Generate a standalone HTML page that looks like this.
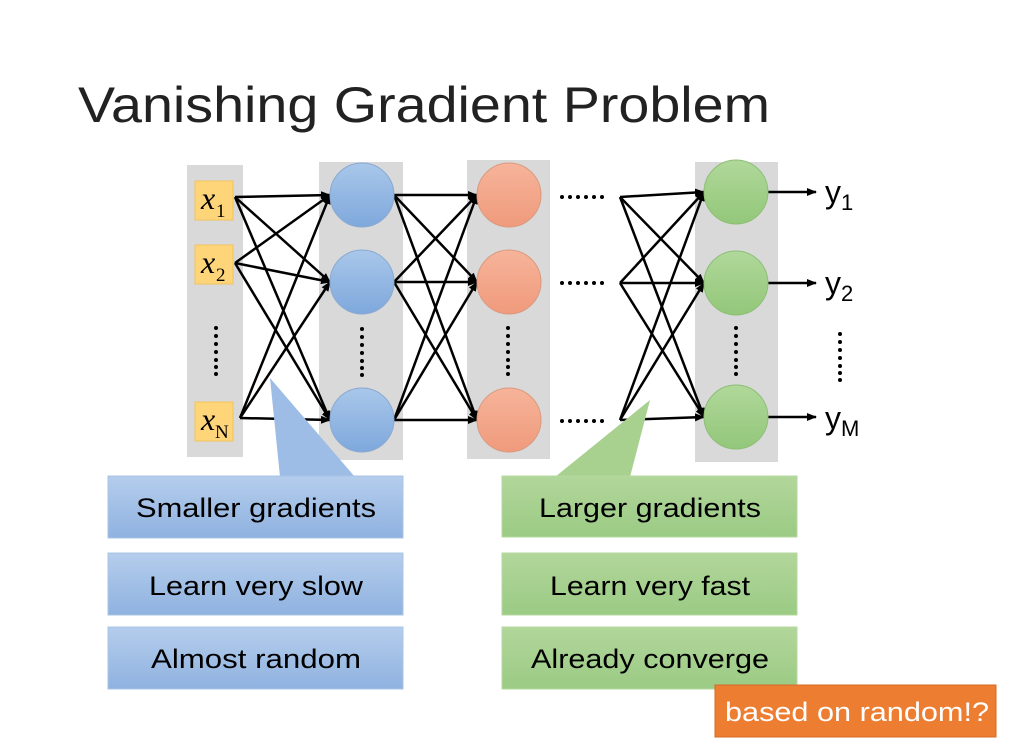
<!DOCTYPE html>
<html><head><meta charset="utf-8"><style>html,body{margin:0;padding:0;background:#fff}svg{display:block}</style></head>
<body>
<svg width="1014" height="755" viewBox="0 0 1014 755" xmlns="http://www.w3.org/2000/svg" font-family="Liberation Sans, sans-serif">
<defs>
<marker id="a" markerWidth="10" markerHeight="8" refX="9" refY="4" orient="auto" markerUnits="userSpaceOnUse"><path d="M0,0 L10,4 L0,8 Z" fill="#000"/></marker>
<linearGradient id="gb" x1="0" y1="0" x2="0" y2="1"><stop offset="0" stop-color="#b5cdec"/><stop offset="1" stop-color="#8fb2e0"/></linearGradient>
<linearGradient id="gg" x1="0" y1="0" x2="0" y2="1"><stop offset="0" stop-color="#b2d69b"/><stop offset="1" stop-color="#9bcb84"/></linearGradient>
<linearGradient id="cb" x1="0" y1="0" x2="0" y2="1"><stop offset="0" stop-color="#a9c7ea"/><stop offset="1" stop-color="#7ea8dc"/></linearGradient>
<linearGradient id="co" x1="0" y1="0" x2="0" y2="1"><stop offset="0" stop-color="#f6b49a"/><stop offset="1" stop-color="#f09a7c"/></linearGradient>
<linearGradient id="cg" x1="0" y1="0" x2="0" y2="1"><stop offset="0" stop-color="#b0d89a"/><stop offset="1" stop-color="#93c77a"/></linearGradient>
</defs>
<text x="78" y="122" font-size="50" fill="#222" textLength="692" lengthAdjust="spacingAndGlyphs">Vanishing Gradient Problem</text>
<rect x="187" y="165" width="56" height="292" fill="#d9d9d9"/>
<rect x="319" y="162" width="84" height="298" fill="#d9d9d9"/>
<rect x="467" y="160" width="83" height="299" fill="#d9d9d9"/>
<rect x="695" y="162" width="83" height="300" fill="#d9d9d9"/>
<g fill="#ffd57a" stroke="#f2c35c">
<rect x="195" y="181" width="38" height="39"/><rect x="195" y="245" width="38" height="39"/><rect x="195" y="402" width="38" height="39"/></g>
<g font-family="Liberation Serif, serif" font-style="italic" font-size="32" fill="#000">
<text x="201" y="209">x</text><text x="201" y="273">x</text><text x="201" y="430">x</text></g>
<g font-family="Liberation Serif, serif" font-size="19" fill="#000">
<text x="216" y="217">1</text><text x="216" y="281">2</text><text x="215" y="438">N</text></g>
<g stroke="#000" stroke-width="2.5" fill="none" marker-end="url(#a)">
<line x1="235" y1="197" x2="330" y2="195"/><line x1="235" y1="197" x2="330" y2="282"/><line x1="235" y1="197" x2="330" y2="420"/>
<line x1="235" y1="263" x2="330" y2="195"/><line x1="235" y1="263" x2="330" y2="282"/><line x1="235" y1="263" x2="330" y2="420"/>
<line x1="240" y1="418" x2="330" y2="195"/><line x1="240" y1="418" x2="330" y2="282"/><line x1="240" y1="418" x2="330" y2="420"/>
<line x1="394" y1="195" x2="477" y2="195"/><line x1="394" y1="195" x2="477" y2="282"/><line x1="394" y1="195" x2="477" y2="420"/>
<line x1="394" y1="282" x2="477" y2="195"/><line x1="394" y1="282" x2="477" y2="282"/><line x1="394" y1="282" x2="477" y2="420"/>
<line x1="394" y1="420" x2="477" y2="195"/><line x1="394" y1="420" x2="477" y2="282"/><line x1="394" y1="420" x2="477" y2="420"/>
<line x1="620" y1="197" x2="704" y2="192"/><line x1="620" y1="197" x2="704" y2="283"/><line x1="620" y1="197" x2="704" y2="417"/>
<line x1="620" y1="283" x2="704" y2="192"/><line x1="620" y1="283" x2="704" y2="283"/><line x1="620" y1="283" x2="704" y2="417"/>
<line x1="620" y1="420" x2="704" y2="192"/><line x1="620" y1="420" x2="704" y2="283"/><line x1="620" y1="420" x2="704" y2="417"/>
<line x1="768" y1="192" x2="816" y2="192"/><line x1="768" y1="283" x2="816" y2="283"/><line x1="768" y1="417" x2="816" y2="417"/>
</g>
<g stroke="#8aa9d0" fill="url(#cb)"><circle cx="362" cy="195" r="32"/><circle cx="362" cy="282" r="32"/><circle cx="362" cy="420" r="32"/></g>
<g stroke="#d99a80" fill="url(#co)"><circle cx="509" cy="195" r="32"/><circle cx="509" cy="282" r="32"/><circle cx="509" cy="420" r="32"/></g>
<g stroke="#8cbf74" fill="url(#cg)"><circle cx="736" cy="192" r="32"/><circle cx="736" cy="283" r="32"/><circle cx="736" cy="417" r="32"/></g>
<g fill="#000">
<g id="hd"><circle cx="562" cy="197" r="2"/><circle cx="570" cy="197" r="2"/><circle cx="578" cy="197" r="2"/><circle cx="586" cy="197" r="2"/><circle cx="594" cy="197" r="2"/><circle cx="602" cy="197" r="2"/></g>
<use href="#hd" y="86"/><use href="#hd" y="224"/>
<g id="vd"><circle cx="216" cy="328" r="2"/><circle cx="216" cy="336" r="2"/><circle cx="216" cy="344" r="2"/><circle cx="216" cy="352" r="2"/><circle cx="216" cy="360" r="2"/><circle cx="216" cy="374" r="2"/><circle cx="216" cy="367" r="2"/></g>
<use href="#vd" x="146" y="1"/><use href="#vd" x="292" y="0"/><use href="#vd" x="520" y="0"/><use href="#vd" x="624" y="6"/>
</g>
<g font-size="32" fill="#000">
<text x="825" y="203">y<tspan font-size="22" dy="7">1</tspan></text>
<text x="825" y="294">y<tspan font-size="22" dy="7">2</tspan></text>
<text x="825" y="429">y<tspan font-size="22" dy="7">M</tspan></text>
</g>
<polygon points="270,378 355,477 280,477" fill="#9dbde6"/>
<polygon points="650,400 630,477 555,477" fill="#a8d08f"/>
<rect x="108" y="476" width="295" height="62" fill="url(#gb)" stroke="#a9c4e6"/>
<rect x="108" y="553" width="295" height="62" fill="url(#gb)" stroke="#a9c4e6"/>
<rect x="108" y="627" width="295" height="62" fill="url(#gb)" stroke="#a9c4e6"/>
<rect x="502" y="476" width="295" height="61" fill="url(#gg)" stroke="#b6d9a0"/>
<rect x="502" y="553" width="295" height="62" fill="url(#gg)" stroke="#b6d9a0"/>
<rect x="502" y="627" width="295" height="62" fill="url(#gg)" stroke="#b6d9a0"/>
<rect x="715" y="685" width="281" height="52" fill="#ed7d31" stroke="#d46a22"/>
<g font-size="27" fill="#000" text-anchor="middle">
<text x="256" y="517" textLength="240" lengthAdjust="spacingAndGlyphs">Smaller gradients</text>
<text x="256" y="595" textLength="214" lengthAdjust="spacingAndGlyphs">Learn very slow</text>
<text x="256" y="668" textLength="210" lengthAdjust="spacingAndGlyphs">Almost random</text>
<text x="650" y="517" textLength="222" lengthAdjust="spacingAndGlyphs">Larger gradients</text>
<text x="650" y="595" textLength="200" lengthAdjust="spacingAndGlyphs">Learn very fast</text>
<text x="650" y="668" textLength="238" lengthAdjust="spacingAndGlyphs">Already converge</text>
<text x="857" y="721" fill="#fff" textLength="264" lengthAdjust="spacingAndGlyphs">based on random!?</text>
</g>
</svg>
</body></html>
